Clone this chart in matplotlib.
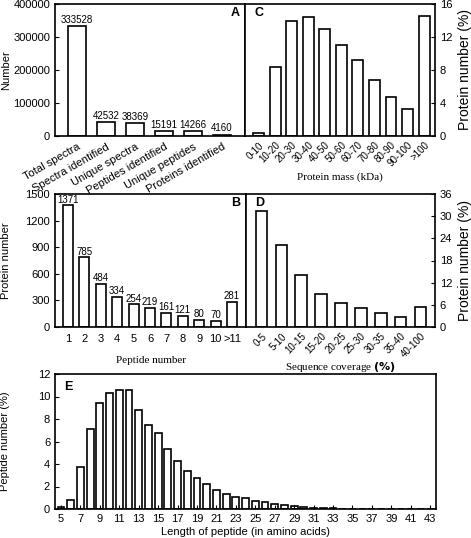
import numpy as np
import matplotlib
matplotlib.use('Agg')
import matplotlib.pyplot as plt

plt.rcParams['font.family'] = ['Liberation Sans', 'DejaVu Sans']
plt.rcParams['font.size'] = 8
plt.rcParams['axes.linewidth'] = 1.2

# Panel A: identification summary
a_labels = ['Total spectra', 'Spectra identified', 'Unique spectra',
            'Peptides identified', 'Unique peptides', 'Proteins identified']
a_values = [333528, 42532, 38369, 15191, 14266, 4160]

# Panel B: proteins by number of peptides
b_labels = ['1', '2', '3', '4', '5', '6', '7', '8', '9', '10', '>11']
b_values = [1371, 785, 484, 334, 254, 219, 161, 121, 80, 70, 281]

# Panel C: protein mass distribution (%)
c_labels = ['0-10', '10-20', '20-30', '30-40', '40-50', '50-60', '60-70',
            '70-80', '80-90', '90-100', '>100']
c_values = [0.4, 8.4, 14.0, 14.4, 13.0, 11.0, 9.2, 6.8, 4.7, 3.3, 14.6]

# Panel D: sequence coverage (%)
d_labels = ['0-5', '5-10', '10-15', '15-20', '20-25', '25-30', '30-35',
            '35-40', '40-100']
d_values = [31.3, 22.2, 14.0, 8.8, 6.4, 5.2, 3.8, 2.7, 5.4]

# Panel E: peptide length distribution (%)
e_lengths = list(range(5, 44))
e_values = [0.2, 0.8, 3.7, 7.1, 9.4, 10.3, 10.55, 10.6, 8.8, 7.5, 6.8, 5.3,
            4.3, 3.4, 2.8, 2.2, 1.7, 1.3, 1.1, 0.95, 0.75, 0.6, 0.45, 0.35,
            0.25, 0.18, 0.12, 0.08, 0.05, 0.04, 0.03, 0.02, 0.02, 0.01,
            0.01, 0.01, 0.01, 0.01, 0.01]

W, H = 471, 538
fig = plt.figure(figsize=(W / 100, H / 100), dpi=100)


def rect(x0, y0, x1, y1):
    return [x0 / W, 1 - y1 / H, (x1 - x0) / W, (y1 - y0) / H]


bar_kw = dict(color='white', edgecolor='black', linewidth=1.2)
serif = ['Liberation Serif', 'DejaVu Serif']

# ---- A
ax = fig.add_axes(rect(55, 4, 245, 136))
xa = np.arange(1, len(a_values) + 1)
ax.bar(xa, a_values, width=0.62, **bar_kw)
for x, v in zip(xa, a_values):
    ax.text(x, v + 4000, str(v), ha='center', va='bottom', fontsize=7)
ax.set_xlim(0.24, 6.79)
ax.set_ylim(0, 400000)
ax.set_yticks(range(0, 400001, 100000))
ax.set_xticks(xa)
ax.set_xticklabels(a_labels, rotation=30, ha='right', rotation_mode='anchor')
ax.tick_params(axis='x', length=0, pad=4)
ax.tick_params(axis='y', direction='in', length=3)
ax.set_ylabel('Number')
ax.yaxis.set_label_coords(-0.232, 0.5)
ax.text(0.97, 0.93, 'A', transform=ax.transAxes, ha='right', va='center',
        fontweight='bold', fontsize=9)

# ---- C
ax = fig.add_axes(rect(245, 4, 435, 136))
xc = np.arange(1, len(c_values) + 1)
ax.bar(xc, c_values, width=0.66, **bar_kw)
ax.set_xlim(0.18, 11.66)
ax.set_ylim(0, 16)
ax.set_yticks(range(0, 17, 4))
ax.yaxis.tick_right()
ax.yaxis.set_label_position('right')
ax.set_xticks(xc)
ax.set_xticklabels(c_labels, rotation=45, ha='right', rotation_mode='anchor',
                   fontsize=7)
ax.tick_params(axis='x', length=0, pad=3)
ax.tick_params(axis='y', direction='in', length=3)
ax.set_ylabel('Protein number (%)', fontsize=10)
ax.yaxis.set_label_coords(1.12, 0.5)
ax.set_xlabel('Protein mass (kDa)', family=serif, fontsize=8, labelpad=3)
ax.text(0.05, 0.93, 'C', transform=ax.transAxes, ha='left', va='center',
        fontweight='bold', fontsize=9)

# ---- B
ax = fig.add_axes(rect(55, 194, 246, 327))
xb = np.arange(1, len(b_values) + 1)
ax.bar(xb, b_values, width=0.6, **bar_kw)
for x, v in zip(xb, b_values):
    ax.text(x, v + 10, str(v), ha='center', va='bottom', fontsize=7)
ax.set_xlim(0.21, 11.85)
ax.set_ylim(0, 1500)
ax.set_yticks(range(0, 1501, 300))
ax.set_xticks(xb)
ax.set_xticklabels(b_labels)
ax.tick_params(axis='x', length=0, pad=5)
ax.tick_params(axis='y', direction='in', length=3)
ax.set_ylabel('Protein number')
ax.yaxis.set_label_coords(-0.232, 0.5)
ax.set_xlabel('Peptide number', family=serif, fontsize=8, labelpad=9)
ax.text(0.97, 0.93, 'B', transform=ax.transAxes, ha='right', va='center',
        fontweight='bold', fontsize=9)

# ---- D
ax = fig.add_axes(rect(246, 194, 435, 327))
xd = np.arange(1, len(d_values) + 1)
ax.bar(xd, d_values, width=0.58, **bar_kw)
ax.set_xlim(0.22, 9.73)
ax.set_ylim(0, 36)
ax.set_yticks(range(0, 37, 6))
ax.yaxis.tick_right()
ax.yaxis.set_label_position('right')
ax.set_xticks(xd)
ax.set_xticklabels(d_labels, rotation=45, ha='right', rotation_mode='anchor',
                   fontsize=7)
ax.tick_params(axis='x', length=0, pad=3)
ax.tick_params(axis='y', direction='in', length=3)
ax.set_ylabel('Protein number (%)', fontsize=10)
ax.yaxis.set_label_coords(1.122, 0.5)
ax.set_xlabel(r'Sequence coverage $\mathbf{(\%)}$', family=serif,
              fontsize=8, labelpad=0)
ax.text(0.05, 0.93, 'D', transform=ax.transAxes, ha='left', va='center',
        fontweight='bold', fontsize=9)

# ---- E
ax = fig.add_axes(rect(55, 374, 436, 509))
ax.bar(e_lengths, e_values, width=0.7, **bar_kw)
ax.set_xlim(4.38, 43.6)
ax.set_ylim(0, 12)
ax.set_yticks(range(0, 13, 2))
ax.set_xticks(range(5, 44, 2))
ax.tick_params(direction='in', length=3)
ax.set_ylabel('Peptide number (%)')
ax.yaxis.set_label_coords(-0.117, 0.5)
ax.set_xlabel('Length of peptide (in amino acids)', labelpad=2)
ax.text(0.025, 0.9, 'E', transform=ax.transAxes, ha='left', va='center',
        fontweight='bold', fontsize=9)

fig.savefig('out.png', dpi=100)
